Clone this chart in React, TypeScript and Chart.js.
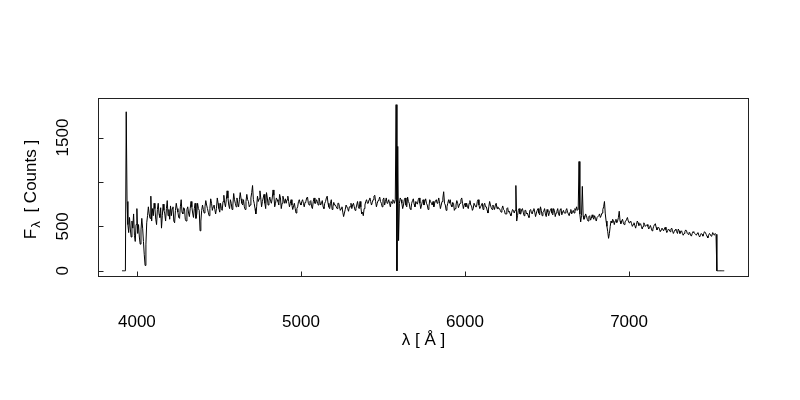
import React, { useEffect, useRef } from "react";
import { Chart, registerables } from "chart.js";

Chart.register(...registerables);

// Spectrum sampled every 5 Å starting at 3910 Å
const lambdaStart = 3910;
const lambdaStep = 5;
const flux = [
  0, 0, 0, 0, 0, 1790, 780, 520, 430, 600, 470, 380, 560, 480, 640, 400, 330, 520, 700, 420,
  520, 380, 300, 460, 590, 480, 330, 180, 60, 300, 540, 620, 720, 640, 590, 840, 560, 700, 620, 760,
  700, 580, 520, 690, 760, 640, 600, 710, 480, 620, 750, 680, 640, 560, 700, 790, 620, 690, 580, 730,
  620, 700, 720, 560, 540, 680, 760, 700, 660, 600, 590, 720, 800, 660, 640, 710, 700, 580, 560, 690,
  720, 650, 610, 700, 780, 720, 650, 600, 700, 760, 590, 640, 760, 700, 680, 450, 560, 680, 740, 690,
  650, 720, 790, 740, 700, 660, 620, 700, 810, 760, 680, 720, 740, 690, 640, 700, 820, 760, 700, 660,
  760, 700, 680, 780, 850, 760, 720, 800, 900, 820, 740, 700, 800, 760, 690, 740, 870, 800, 760, 720,
  820, 760, 720, 800, 880, 810, 760, 740, 800, 720, 690, 780, 860, 800, 780, 720, 740, 820, 880, 960,
  800, 760, 700, 640, 720, 840, 780, 810, 900, 820, 720, 780, 820, 860, 760, 700, 880, 820, 740, 790,
  830, 780, 760, 820, 910, 850, 720, 760, 820, 800, 780, 740, 860, 820, 700, 760, 840, 800, 760, 810,
  760, 800, 840, 780, 720, 760, 800, 740, 690, 730, 760, 700, 650, 700, 720, 780, 800, 760, 740, 780,
  800, 760, 720, 770, 780, 820, 830, 760, 740, 780, 790, 720, 700, 780, 820, 760, 760, 800, 780, 740,
  820, 780, 740, 760, 790, 720, 700, 760, 780, 820, 840, 760, 720, 700, 760, 800, 690, 720, 770, 740,
  740, 720, 700, 760, 760, 720, 680, 700, 720, 660, 610, 650, 690, 740, 740, 700, 670, 720, 720, 760,
  700, 740, 760, 720, 680, 700, 740, 780, 720, 700, 780, 720, 640, 660, 620, 700, 740, 780, 800, 760,
  760, 800, 820, 780, 740, 770, 800, 840, 850, 780, 720, 760, 790, 800, 830, 780, 760, 720, 800, 820,
  740, 780, 820, 760, 770, 800, 760, 720, 780, 760, 800, 790, 760, 800, 1870, 0, 1400, 340, 760, 820,
  800, 760, 700, 740, 800, 820, 740, 720, 830, 780, 760, 700, 690, 760, 790, 810, 750, 720, 780, 760,
  750, 800, 820, 760, 700, 740, 780, 800, 740, 780, 810, 760, 740, 690, 720, 800, 780, 760, 740, 780,
  720, 760, 790, 800, 760, 780, 820, 760, 700, 740, 780, 820, 890, 760, 740, 680, 720, 760, 800, 760,
  800, 740, 720, 770, 760, 680, 700, 740, 790, 760, 710, 740, 760, 800, 820, 760, 700, 740, 760, 720,
  760, 720, 700, 760, 790, 740, 730, 680, 700, 760, 760, 720, 720, 780, 800, 740, 700, 720, 740, 760,
  690, 740, 760, 720, 720, 680, 650, 720, 780, 740, 710, 690, 740, 720, 690, 740, 760, 700, 720, 700,
  700, 680, 660, 700, 730, 690, 680, 640, 640, 700, 710, 660, 670, 640, 620, 660, 690, 680, 650, 680,
  960, 560, 620, 680, 700, 640, 640, 690, 700, 660, 620, 680, 680, 640, 650, 620, 600, 680, 690, 650,
  640, 680, 700, 660, 610, 650, 680, 700, 650, 630, 720, 680, 620, 660, 670, 700, 640, 610, 690, 660,
  620, 660, 680, 700, 650, 630, 700, 680, 610, 650, 670, 700, 640, 620, 690, 700, 630, 660, 680, 650,
  650, 680, 700, 660, 640, 620, 660, 690, 640, 660, 680, 650, 700, 680, 720, 680, 690, 1230, 640, 550,
  620, 950, 620, 580, 600, 640, 620, 580, 560, 610, 620, 570, 590, 630, 600, 580, 620, 590, 560, 600,
  600, 620, 640, 600, 620, 650, 690, 720, 780, 640, 560, 500, 440, 365, 420, 500, 560, 540, 580, 560,
  520, 560, 580, 540, 560, 600, 670, 560, 530, 560, 580, 540, 520, 550, 560, 580, 600, 560, 540, 550,
  560, 530, 500, 520, 540, 510, 480, 520, 560, 540, 510, 520, 530, 500, 470, 500, 540, 520, 500, 510,
  520, 500, 470, 490, 510, 480, 450, 470, 500, 520, 530, 490, 460, 480, 490, 470, 440, 460, 480, 470,
  450, 470, 490, 460, 430, 450, 470, 460, 440, 470, 480, 450, 420, 440, 460, 470, 440, 420, 470, 450,
  420, 440, 450, 420, 400, 420, 440, 460, 450, 420, 410, 430, 430, 400, 390, 420, 440, 430, 420, 410,
  400, 420, 430, 400, 380, 400, 420, 410, 390, 420, 440, 430, 410, 390, 370, 400, 420, 410, 390, 400,
  430, 410, 400, 420, 410, 0, 0, 0, 0, 0, 0, 0, 0, 0, 0,
];

const xTicks = [4000, 5000, 6000, 7000];
const yTicks = [0, 500, 1000, 1500];
const yTickLabels = ["0", "500", "", "1500"];
const xTitle = "λ [ Å ]";
const yTitleMain = "F";
const yTitleSub = "λ";
const yTitleRest = " [ Counts ]";

const FONT = '"Liberation Sans", Arial, Helvetica, sans-serif';
const FONT_SIZE = 17;

export default function App() {
  const ref = useRef<HTMLCanvasElement>(null);

  useEffect(() => {
    if (!ref.current) return;
    const points = flux.map((v, i) => ({ x: lambdaStart + i * lambdaStep, y: v }));

    const framePlugin = {
      id: "rframe",
      afterDraw(chart: any) {
        const { ctx, chartArea: a, scales } = chart;
        const xs = scales.x;
        const ys = scales.y;
        ctx.save();
        ctx.strokeStyle = "#222";
        ctx.lineWidth = 1;
        const L = Math.round(a.left) + 0.5;
        const R = Math.round(a.right) - 0.5;
        const T = Math.round(a.top) + 0.5;
        const B = Math.round(a.bottom) - 0.5;
        ctx.strokeRect(L, T, R - L, B - T);
        ctx.beginPath();
        xTicks.forEach((v) => {
          const px = Math.round(xs.getPixelForValue(v)) + 0.5;
          ctx.moveTo(px, B);
          ctx.lineTo(px, B - 5);
        });
        yTicks.forEach((v) => {
          const py = Math.round(ys.getPixelForValue(v)) + 0.5;
          ctx.moveTo(L, py);
          ctx.lineTo(L + 5, py);
        });
        ctx.stroke();

        ctx.fillStyle = "#000";
        ctx.font = `${FONT_SIZE}px ${FONT}`;
        ctx.textAlign = "center";
        ctx.textBaseline = "middle";
        yTicks.forEach((v, i) => {
          const label = yTickLabels[i];
          if (!label) return;
          const py = ys.getPixelForValue(v);
          ctx.save();
          ctx.translate(63, py);
          ctx.rotate(-Math.PI / 2);
          ctx.fillText(label, 0, 0);
          ctx.restore();
        });

        // y axis title with subscript
        const cy = (a.top + a.bottom) / 2 + 2;
        ctx.save();
        ctx.translate(31, cy);
        ctx.rotate(-Math.PI / 2);
        ctx.textAlign = "left";
        ctx.textBaseline = "middle";
        const mainFont = `${FONT_SIZE}px ${FONT}`;
        const subFont = `${Math.round(FONT_SIZE * 0.75)}px ${FONT}`;
        ctx.font = mainFont;
        const wF = ctx.measureText(yTitleMain).width;
        const wR = ctx.measureText(yTitleRest).width;
        ctx.font = subFont;
        const wS = ctx.measureText(yTitleSub).width;
        const total = wF + wS + wR + 5;
        let x0 = -total / 2;
        ctx.font = mainFont;
        ctx.fillText(yTitleMain, x0, 0);
        x0 += wF + 1;
        ctx.font = subFont;
        ctx.fillText(yTitleSub, x0, 5);
        x0 += wS + 4;
        ctx.font = mainFont;
        ctx.fillText(yTitleRest, x0, 0);
        ctx.restore();
        ctx.restore();
      },
    };

    const chart = new Chart(ref.current, {
      type: "line",
      data: {
        datasets: [
          {
            data: points,
            borderColor: "#000",
            borderWidth: 1,
            pointRadius: 0,
            fill: false,
            tension: 0,
          },
        ],
      },
      options: {
        responsive: false,
        animation: false,
        events: [],
        layout: { padding: { top: 98, right: 51, left: 0, bottom: 0 } },
        plugins: { legend: { display: false }, tooltip: { enabled: false } },
        scales: {
          x: {
            type: "linear",
            min: 3763,
            max: 7731,
            afterBuildTicks: (s: any) => {
              s.ticks = xTicks.map((v) => ({ value: v }));
            },
            afterFit: (s: any) => {
              s.height = 123;
            },
            grid: { display: false, drawTicks: false },
            border: { display: false },
            ticks: {
              color: "#000",
              padding: 35,
              autoSkip: false,
              maxRotation: 0,
              minRotation: 0,
              font: { family: FONT, size: FONT_SIZE },
              callback: (v: any) => String(v),
            },
            title: {
              display: true,
              text: xTitle,
              color: "#000",
              font: { family: FONT, size: FONT_SIZE },
              padding: { top: 0, bottom: 49 },
            },
          },
          y: {
            type: "linear",
            min: -70,
            max: 1945,
            afterBuildTicks: (s: any) => {
              s.ticks = yTicks.map((v) => ({ value: v }));
            },
            afterFit: (s: any) => {
              s.width = 98;
            },
            grid: { display: false, drawTicks: false },
            border: { display: false },
            ticks: { display: false },
          },
        },
      },
      plugins: [framePlugin],
    });
    return () => chart.destroy();
  }, []);

  return (
    <div style={{ position: "absolute", left: 0, top: 0, width: 800, height: 400, background: "#fff" }}>
      <canvas ref={ref} width={800} height={400} />
    </div>
  );
}
